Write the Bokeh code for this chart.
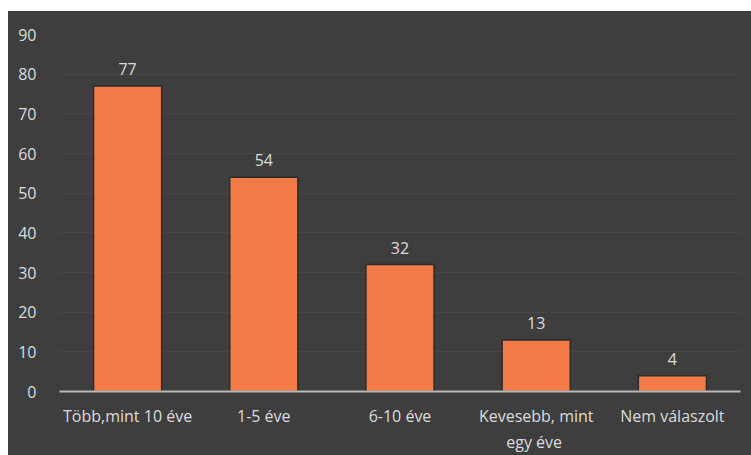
from bokeh.plotting import figure
from bokeh.models import ColumnDataSource, LabelSet, FactorRange
from bokeh.core.properties import value
from bokeh.embed import file_html
from bokeh.resources import INLINE

# Survey answers: how long respondents have been doing it
categories = ["Több,mint 10 éve", "1-5 éve", "6-10 éve",
              "Kevesebb, mint\negy  éve", "Nem válaszolt"]
counts = [77, 54, 32, 13, 4]
y_ticks = [0, 10, 20, 30, 40, 50, 60, 70, 80, 90]

BG = "#3e3e3e"
TEXT = "#dcdcdc"
BAR = "#f27b47"
FONT = "Open Sans"
FS = "16px"

source = ColumnDataSource(data=dict(
    cat=categories,
    val=counts,
    lbl=[str(v) for v in counts],
))

p = figure(
    x_range=FactorRange(*categories, range_padding=0),
    y_range=(0, 90),
    width=743, height=444,
    output_backend="svg",
    toolbar_location=None,
    background_fill_alpha=0,
    border_fill_alpha=0,
    outline_line_color=None,
    min_border_left=51, min_border_right=11,
    min_border_top=23, min_border_bottom=64,
)
p.margin = (11, 0, 0, 8)
# one solid backdrop behind frame and borders alike
p.styles = {"background-color": BG}

p.vbar(x="cat", top="val", width=0.5, source=source,
       fill_color=BAR, line_color="#2c2c2c", line_width=1.5)

labels = LabelSet(x="cat", y="val", text="lbl", source=source,
                  y_offset=11, text_align="center", text_baseline="bottom",
                  text_color=TEXT, text_font_size=FS, text_font=value(FONT))
p.add_layout(labels)

# axes
p.yaxis.ticker = y_ticks
p.yaxis.axis_line_color = None
p.yaxis.major_tick_line_color = None
p.yaxis.minor_tick_line_color = None
p.yaxis.major_label_standoff = 17
p.yaxis.major_label_text_color = TEXT
p.yaxis.major_label_text_font = FONT
p.yaxis.major_label_text_font_size = FS

p.xaxis.axis_line_color = "#b8b8b8"
p.xaxis.axis_line_width = 2
p.xaxis.major_tick_line_color = None
p.xaxis.minor_tick_line_color = None
p.xaxis.major_label_standoff = 7
p.xaxis.major_label_text_color = TEXT
p.xaxis.major_label_text_font = FONT
p.xaxis.major_label_text_font_size = FS

p.xgrid.grid_line_color = None
p.ygrid.grid_line_color = "#474747"
p.ygrid.grid_line_width = 1

open("out.html", "w").write(file_html(p, INLINE))
